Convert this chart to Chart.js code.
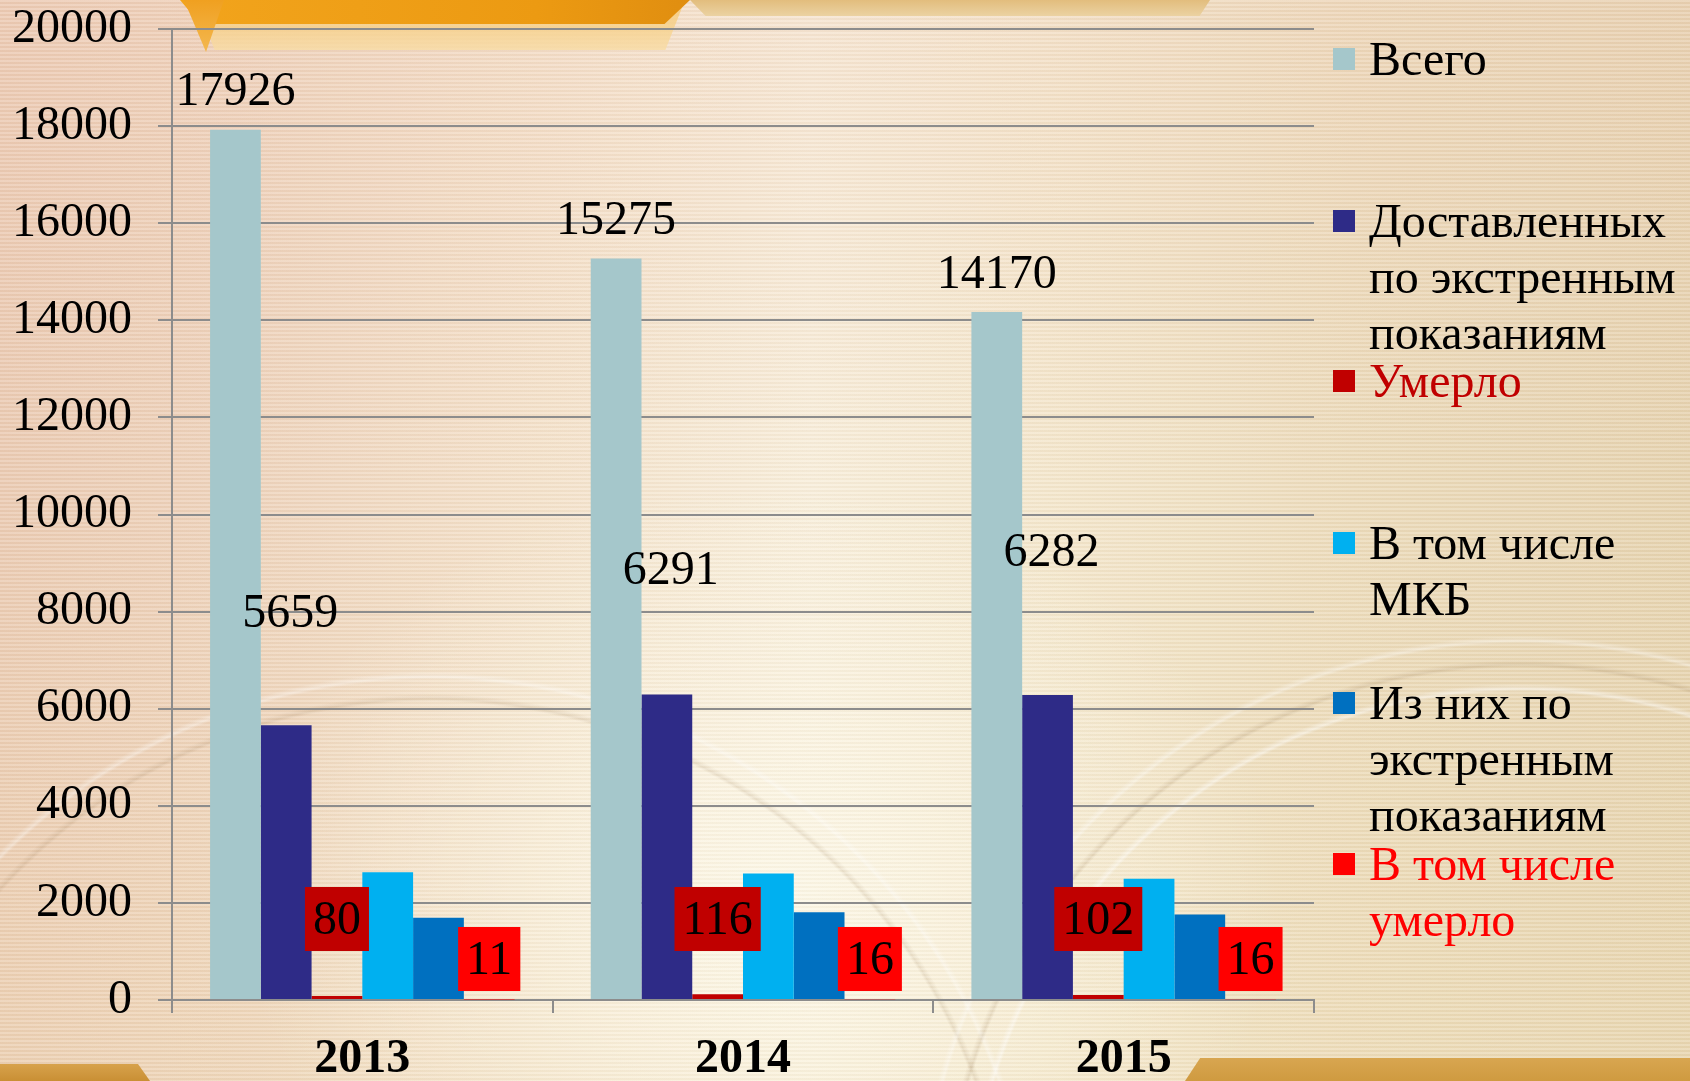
<!DOCTYPE html>
<html>
<head>
<meta charset="utf-8">
<script src="https://cdn.jsdelivr.net/npm/chart.js@4.4.1/dist/chart.umd.min.js"></script>
<style>
    html, body { margin: 0; padding: 0; }
    #wrap {
        position: relative;
        width: 1690px;
        height: 1081px;
        overflow: hidden;
        font-family: 'Liberation Serif', 'Times New Roman', serif;
        background:
            repeating-linear-gradient(180deg, rgba(255,255,255,0.16) 0px, rgba(255,255,255,0.16) 2px, rgba(120,90,50,0.035) 2px, rgba(120,90,50,0.035) 4px),
            radial-gradient(circle at 1520px 1240px, transparent 0, transparent 548px, rgba(255,255,255,0.45) 551px, transparent 556px, transparent 572px, rgba(150,120,80,0.18) 575px, transparent 580px, transparent 596px, rgba(255,255,255,0.35) 599px, transparent 604px),
            radial-gradient(circle at 430px 1280px, transparent 0, transparent 578px, rgba(150,120,80,0.16) 581px, transparent 586px, transparent 600px, rgba(255,255,255,0.35) 603px, transparent 608px),
            radial-gradient(ellipse 520px 420px at 760px 900px, rgba(255,252,238,0.75), rgba(255,252,238,0) 100%),
            linear-gradient(180deg, rgba(240,200,180,0.25) 0%, rgba(255,255,255,0) 45%, rgba(240,225,180,0.25) 100%),
            linear-gradient(90deg, #ebcbb3 0%, #eed3bc 14%, #f4e2cb 32%, #f8eedb 48%, #f4e7cd 62%, #ecdbbb 80%, #e6d3b0 100%);
    }
    .deco { position: absolute; }
    #chart { position: absolute; left: 0; top: 0; }
    #legend { position: absolute; left: 0; top: 0; width: 1690px; height: 1081px; pointer-events: none; }
    .item { position: absolute; left: 1333px; }
    .item .sq { position: absolute; left: 0; width: 22px; height: 22px; }
    .item .tx { position: absolute; left: 36px; white-space: nowrap; font-size: 48px; line-height: 56px; }
</style>
</head>
<body>
<div id="wrap">
    <div class="deco" style="left:690px;top:0;width:520px;height:16px;background:linear-gradient(180deg,#e2bd7d,#ebd2a2);clip-path:polygon(0 0,100% 0,98% 100%,3% 100%);"></div>
    <div class="deco" style="left:195px;top:0;width:490px;height:50px;background:linear-gradient(180deg,#f6c46a,#f8dca5);clip-path:polygon(0 0,100% 0,96% 100%,4% 100%);opacity:0.8;"></div>
    <div class="deco" style="left:180px;top:0;width:510px;height:24px;background:linear-gradient(90deg,#f2a41c,#ec9a12 70%,#e08e10);clip-path:polygon(0 0,100% 0,95% 100%,4% 100%);"></div>
    <div class="deco" style="left:184px;top:0;width:40px;height:52px;background:linear-gradient(180deg,#f0a020,#f3b850);clip-path:polygon(0 0,100% 0,55% 100%);"></div>
    <div class="deco" style="left:0;top:1064px;width:150px;height:17px;background:linear-gradient(180deg,#d7a24c,#c98f34);clip-path:polygon(0 0,92% 0,100% 100%,0 100%);"></div>
    <div class="deco" style="left:1185px;top:1058px;width:505px;height:23px;background:linear-gradient(180deg,#d8a650,#cf9a40);clip-path:polygon(3% 0,100% 0,100% 100%,0 100%);"></div>
    <canvas id="chart" width="1690" height="1081"></canvas>
    <div id="legend"></div>
</div>
<script>
// Values
const years = ['2013', '2014', '2015'];
const seriesNames = [
    'Всего',
    'Доставленных по экстренным показаниям',
    'Умерло',
    'В том числе МКБ',
    'Из них по экстренным показаниям',
    'В том числе умерло'
];
const totalAdmitted = [17926, 15275, 14170];
const emergencyDelivered = [5659, 6291, 6282];
const deceased = [80, 116, 102];
const mkbCases = [2630, 2605, 2495];
const mkbEmergency = [1695, 1805, 1760];
const mkbDeceased = [11, 16, 16];
const yTickStep = 2000;
const yMax = 20000;

// styling
const barColors = ['#a5c7cb', '#2e2b87', '#c00000', '#00b0f0', '#0070c0', '#ff0000'];
const legendTextColors = ['#000', '#000', '#c00000', '#000', '#000', '#ff0000'];
const legendLines = [
    ['Всего'],
    ['Доставленных', 'по экстренным', 'показаниям'],
    ['Умерло'],
    ['В том числе', 'МКБ'],
    ['Из них по', 'экстренным', 'показаниям'],
    ['В том числе', 'умерло']
];
const legendTops = [31, 193, 353, 515, 675, 836];
const deliveredLabelLift = [111, 123, 142];
const FONT = "'Liberation Serif', 'Times New Roman', serif";
const gridColor = '#8c8c8c';

const seriesValues = [totalAdmitted, emergencyDelivered, deceased, mkbCases, mkbEmergency, mkbDeceased];

// legend (html)
const legend = document.getElementById('legend');
legendLines.forEach((lines, i) => {
    const item = document.createElement('div');
    item.className = 'item';
    item.style.top = legendTops[i] + 'px';
    item.title = seriesNames[i];
    const sq = document.createElement('div');
    sq.className = 'sq';
    sq.style.background = barColors[i];
    sq.style.top = '17px';
    const tx = document.createElement('div');
    tx.className = 'tx';
    tx.style.color = legendTextColors[i];
    tx.innerHTML = lines.join('<br>');
    item.appendChild(sq);
    item.appendChild(tx);
    legend.appendChild(item);
});

// data labels drawn on top of the bars
const valueLabels = {
    id: 'valueLabels',
    afterDatasetsDraw(chart) {
        const ctx = chart.ctx;
        ctx.save();
        ctx.font = '48px ' + FONT;
        ctx.textAlign = 'center';
        ctx.textBaseline = 'middle';
        chart.data.datasets.forEach((ds, di) => {
            const meta = chart.getDatasetMeta(di);
            meta.data.forEach((bar, i) => {
                const text = String(ds.data[i]);
                if (di === 0) {
                    ctx.fillStyle = '#000';
                    ctx.fillText(text, bar.x, bar.y - 37);
                } else if (di === 1) {
                    ctx.fillStyle = '#000';
                    ctx.fillText(text, bar.x + 4, bar.y - deliveredLabelLift[i]);
                } else if (di === 2 || di === 5) {
                    const cy = di === 2 ? bar.base - 80 : bar.base - 40;
                    const w = ctx.measureText(text).width + 16;
                    const h = 64;
                    ctx.fillStyle = barColors[di];
                    ctx.fillRect(bar.x - w / 2, cy - h / 2, w, h);
                    ctx.fillStyle = '#000';
                    ctx.fillText(text, bar.x, cy + 2);
                }
            });
        });
        ctx.restore();
    }
};

new Chart(document.getElementById('chart'), {
    type: 'bar',
    data: {
        labels: years,
        datasets: seriesNames.map((name, i) => ({
            label: name,
            data: seriesValues[i],
            backgroundColor: barColors[i],
            borderWidth: 0,
            categoryPercentage: 0.8,
            barPercentage: 1.0
        }))
    },
    options: {
        responsive: false,
        animation: false,
        devicePixelRatio: 1,
        layout: { padding: { top: 29, right: 376, bottom: 0, left: 0 } },
        plugins: {
            legend: { display: false },
            tooltip: { enabled: false }
        },
        scales: {
            x: {
                afterFit: (scale) => {
                    scale.height = 81;
                    scale.paddingLeft = 0;
                    scale.paddingRight = 0;
                },
                grid: {
                    offset: true,
                    drawOnChartArea: false,
                    drawTicks: true,
                    tickLength: 13,
                    color: gridColor,
                    lineWidth: 2
                },
                border: { display: true, color: gridColor, width: 2 },
                ticks: {
                    color: '#000',
                    padding: 18,
                    font: { family: FONT, size: 48, weight: 'bold' }
                }
            },
            y: {
                min: 0,
                max: yMax,
                afterFit: (scale) => {
                    scale.width = 172;
                    scale.paddingTop = 0;
                    scale.paddingBottom = 0;
                },
                grid: {
                    color: gridColor,
                    lineWidth: 2,
                    drawTicks: true,
                    tickLength: 14
                },
                border: { display: true, color: gridColor, width: 2 },
                ticks: {
                    stepSize: yTickStep,
                    color: '#000',
                    padding: 26,
                    font: { family: FONT, size: 48 },
                    callback: (v) => String(v)
                }
            }
        }
    },
    plugins: [valueLabels]
});
</script>
</body>
</html>
